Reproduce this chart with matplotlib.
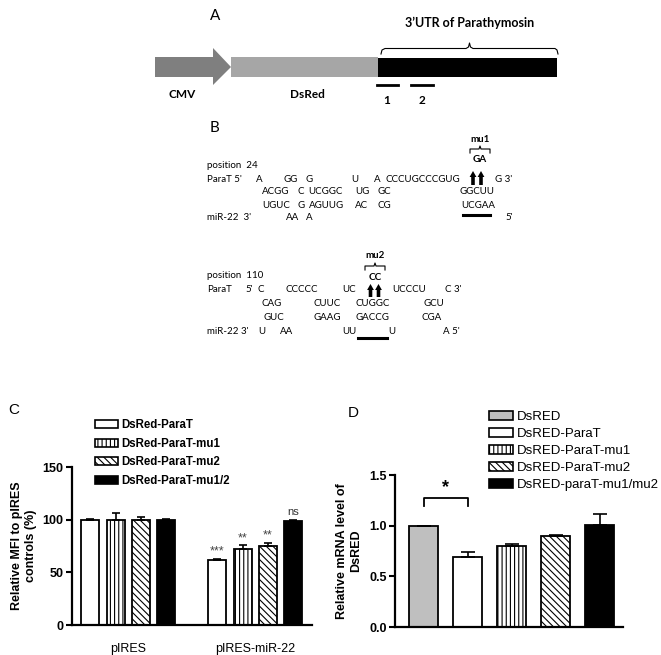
import numpy as np
import matplotlib
matplotlib.use("Agg")
import matplotlib.pyplot as plt
from matplotlib.patches import Polygon, Rectangle, FancyArrow, Patch

# ---- data ----
c_groups = ["pIRES", "pIRES-miR-22"]
c_series = ["DsRed-ParaT", "DsRed-ParaT-mu1", "DsRed-ParaT-mu2", "DsRed-ParaT-mu1/2"]
c_means = [[100, 100, 100, 100],
           [61.5, 72.5, 75, 98.5]]
c_errs = [[0.8, 6.5, 3, 0.3],
          [1.3, 3, 3, 1]]
c_marks = [["", "", "", ""],
           ["***", "**", "**", "ns"]]
c_yticks = [0, 50, 100, 150]

d_series = ["DsRED", "DsRED-ParaT", "DsRED-ParaT-mu1", "DsRED-ParaT-mu2", "DsRED-paraT-mu1/mu2"]
d_means = [1.0, 0.69, 0.80, 0.895, 1.01]
d_errs = [0.0, 0.055, 0.02, 0.008, 0.105]
d_yticks = [0.0, 0.5, 1.0, 1.5]

# sequence alignment tokens (panel B)
site1_rows = [
    ["position  24"],
    ["ParaT 5'", "A", "GG", "G", "U", "A", "CCCUGCCCGUG", "G 3'"],
    ["ACGG", "C", "UCGGC", "UG", "GC", "GGCUU"],
    ["UGUC", "G", "AGUUG", "AC", "CG", "UCGAA"],
    ["miR-22  3'", "AA", "A", "5'"],
]
site2_rows = [
    ["position  110"],
    ["ParaT", "5'", "C", "CCCCC", "UC", "UCCCU", "C 3'"],
    ["CAG", "CUUC", "CUGGC", "GCU"],
    ["GUC", "GAAG", "GACCG", "CGA"],
    ["miR-22 3'", "U", "AA", "UU", "U", "A 5'"],
]

# ---- layout (pixel positions of the schematic) ----
W, H = 661, 655
site1_x = [[207], [207, 256, 283, 306, 351, 374, 386, 495],
           [262, 297, 308, 355, 377, 460], [262, 298, 309, 355, 377, 461],
           [207, 286, 306, 505]]
site1_y = [165, 179, 192, 205, 218]
site2_x = [[207], [207, 245, 258, 285, 342, 392, 445],
           [262, 313, 355, 423], [263, 313, 355, 422],
           [207, 258, 280, 342, 388, 443]]
site2_y = [276, 289, 303, 317, 332]

plt.rcParams["font.family"] = ["Liberation Sans", "DejaVu Sans"]
plt.rcParams["hatch.linewidth"] = 0.8

fig = plt.figure(figsize=(W / 100, H / 100), dpi=100)

# overlay axes in pixel coordinates for the schematic
ov = fig.add_axes([0, 0, 1, 1])
ov.set_xlim(0, W)
ov.set_ylim(H, 0)
ov.axis("off")

dfont = "Lato"

# ---- panel A ----
ov.text(210, 16, "A", fontsize=11, ha="left", va="center", family=dfont)
ov.add_patch(Polygon([(155, 57), (213, 57), (213, 48), (231, 67), (213, 85), (213, 77), (155, 77)],
                     closed=True, facecolor="#7f7f7f", edgecolor="none"))
ov.add_patch(Rectangle((231, 57), 147, 20, facecolor="#a6a6a6", edgecolor="none"))
ov.add_patch(Rectangle((378, 57.5), 179, 19.5, facecolor="black", edgecolor="none"))
bx = [381, 382, 385, 466, 468.5, 469.5, 470.5, 473, 555, 557, 558]
by = [54, 50, 48.5, 48.5, 47, 43, 47, 48.5, 48.5, 50, 54]
ov.plot(bx, by, color="black", lw=0.8)
ov.text(470, 23, "3\u2019UTR of Parathymosin", fontsize=9, fontweight="bold", ha="center",
        va="center", family=dfont)
ov.plot([377, 398], [85, 85], color="black", lw=2)
ov.plot([411, 433], [85, 85], color="black", lw=2)
ov.text(387, 101, "1", fontsize=8.5, fontweight="bold", ha="center", va="center", family=dfont)
ov.text(422, 101, "2", fontsize=8.5, fontweight="bold", ha="center", va="center", family=dfont)
ov.text(182, 95, "CMV", fontsize=8.5, fontweight="bold", ha="center", va="center", family=dfont)
ov.text(307, 95, "DsRed", fontsize=8.5, fontweight="bold", ha="center", va="center", family=dfont)

# ---- panel B ----
ov.text(210, 128, "B", fontsize=11, ha="left", va="center", family=dfont)
for rows, xs, ys in [(site1_rows, site1_x, site1_y), (site2_rows, site2_x, site2_y)]:
    for toks, xr, y in zip(rows, xs, ys):
        for t, x in zip(toks, xr):
            ov.text(x, y, t, fontsize=7.0, ha="left", va="center", family=dfont)

label_sub = {"mu1": "GA", "mu2": "CC"}


def small_brace(x0, x1, ytop, label, ylab):
    xm = (x0 + x1) / 2
    ov.plot([x0, x0, xm - 1, xm, xm + 1, x1, x1], [ytop + 5, ytop + 1, ytop + 1, ytop - 2, ytop + 1,
                                                  ytop + 1, ytop + 5], color="black", lw=0.8)
    ov.text(xm, ytop - 9, label, fontsize=7, fontweight="bold", ha="center", va="center", family=dfont)
    ov.text(xm, ylab, label_sub[label], fontsize=7.2, fontweight="bold", ha="center", va="center",
            family=dfont)


small_brace(470, 490, 148, "mu1", 160)
small_brace(365, 385, 265, "mu2", 278)
for ax_x, y0, ln in [(473, 185, 14), (481, 185, 14), (370.5, 297, 13), (378.5, 297, 13)]:
    ov.add_patch(FancyArrow(ax_x, y0, 0, -ln, width=3.6, head_width=6.8, head_length=6,
                            length_includes_head=True, color="black", linewidth=0))
ov.plot([463, 490], [215, 215], color="black", lw=2.2)
ov.plot([358, 387], [338, 338], color="black", lw=2.2)

# ---- panel C ----
c_fill = ["white", "white", "white", "black"]
c_hatch = [None, "||||", "\\\\\\\\\\", None]
axc = fig.add_axes([72 / W, 1 - 625 / H, 240 / W, 158 / H])
step, width = 0.2, 0.142
centers = np.arange(len(c_groups))
for i in range(len(c_series)):
    xs = centers + (i - 1.5) * step
    means = [c_means[g][i] for g in range(len(c_groups))]
    errs = [c_errs[g][i] for g in range(len(c_groups))]
    axc.bar(xs, means, width, color=c_fill[i], edgecolor="black", linewidth=1.3,
            hatch=c_hatch[i], label=c_series[i], zorder=2)
    axc.errorbar(xs, means, yerr=[np.zeros(len(errs)), errs], fmt="none", ecolor="black",
                 elinewidth=1.2, capsize=3, capthick=1.2, zorder=3)
    for g in range(len(c_groups)):
        m = c_marks[g][i]
        if m == "ns":
            axc.text(xs[g], means[g] + errs[g] + 3, m, fontsize=8, ha="center", va="bottom",
                     color="#333333")
        elif m:
            axc.text(xs[g], means[g] + errs[g] + 1, m, fontsize=9, ha="center", va="bottom",
                     color="#444444")
axc.set_xlim(-0.443, 1.447)
axc.set_ylim(0, 150)
axc.set_yticks(c_yticks)
axc.set_xticks(centers)
axc.set_xticklabels(c_groups, fontsize=9)
axc.tick_params(axis="x", length=0, pad=13)
axc.tick_params(axis="y", length=4, width=1.5, labelsize=9, pad=2)
for lab in axc.get_yticklabels():
    lab.set_fontweight("bold")
for s in ["top", "right"]:
    axc.spines[s].set_visible(False)
for s in ["left", "bottom"]:
    axc.spines[s].set_linewidth(1.6)
axc.set_ylabel("Relative MFI to pIRES\ncontrols (%)", fontsize=9, fontweight="bold", labelpad=4)
fig.text(8 / W, 1 - 410 / H, "C", fontsize=11, ha="left", va="center")
hc = [Patch(facecolor=c_fill[i], edgecolor="black", hatch=c_hatch[i], linewidth=1.2)
      for i in range(len(c_series))]
fig.legend(hc, c_series, loc="upper left", bbox_to_anchor=(95 / W, 1 - 419 / H),
           frameon=False, borderpad=0, borderaxespad=0, handlelength=2.0, handleheight=0.7,
           handletextpad=0.3, labelspacing=0.58, prop={"size": 8.3, "weight": "bold"})

# ---- panel D ----
d_fill = ["#bfbfbf", "white", "white", "white", "black"]
d_hatch = [None, None, "||||", "\\\\\\\\\\", None]
axd = fig.add_axes([395 / W, 1 - 627 / H, 228 / W, 152 / H])
xd = np.arange(len(d_series))
axd.bar(xd, d_means, 0.66, color=d_fill, edgecolor="black", linewidth=1.3, zorder=2)
for b, h in zip(axd.patches, d_hatch):
    if h:
        b.set_hatch(h)
axd.errorbar(xd, d_means, yerr=[np.zeros(len(d_errs)), d_errs], fmt="none", ecolor="black",
             elinewidth=1.2, capsize=5, capthick=1.2, zorder=3)
axd.plot([0, 0, 1, 1], [1.19, 1.27, 1.27, 1.19], color="black", lw=1.3)
axd.text(0.5, 1.29, "*", fontsize=13, fontweight="bold", ha="center", va="bottom")
axd.set_xlim(-0.648, 4.53)
axd.set_ylim(0, 1.5)
axd.set_yticks(d_yticks)
axd.set_yticklabels([f"{v:.1f}" for v in d_yticks])
axd.set_xticks([])
axd.tick_params(axis="y", length=4, width=1.5, labelsize=9, pad=2)
for lab in axd.get_yticklabels():
    lab.set_fontweight("bold")
for s in ["top", "right"]:
    axd.spines[s].set_visible(False)
for s in ["left", "bottom"]:
    axd.spines[s].set_linewidth(1.6)
axd.set_ylabel("Relative mRNA level of\nDsRED", fontsize=9, fontweight="bold", labelpad=5)
fig.text(353 / W, 1 - 413 / H, "D", fontsize=11, ha="center", va="center")
hd = [Patch(facecolor=d_fill[i], edgecolor="black", hatch=d_hatch[i], linewidth=1.2)
      for i in range(len(d_series))]
fig.legend(hd, d_series, loc="upper left", bbox_to_anchor=(489 / W, 1 - 411 / H),
           frameon=False, borderpad=0, borderaxespad=0, handlelength=1.8, handleheight=0.68,
           handletextpad=0.3, labelspacing=0.36, prop={"size": 9.5})

fig.savefig("out.png", dpi=100)
